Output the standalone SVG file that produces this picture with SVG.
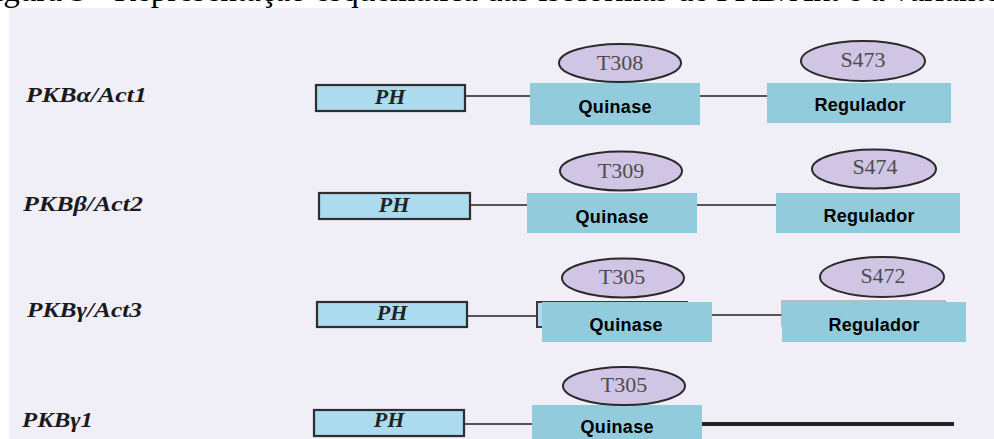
<svg xmlns="http://www.w3.org/2000/svg" width="994" height="439" viewBox="0 0 994 439">
  <style>
    .caption { font-family: "Liberation Serif", "Times New Roman", serif; font-size: 33px; fill: #000; }
    .label { font-family: "Liberation Serif", "Times New Roman", serif; font-size: 22px; font-weight: bold; font-style: italic; fill: #1a1a1a; }
    .ph { fill: #acdaee; stroke: #2e2e2e; stroke-width: 2.2; }
    .ph-text { font-family: "Liberation Serif", "Times New Roman", serif; font-size: 22px; font-weight: bold; font-style: italic; fill: #222; text-anchor: middle; }
    .domain { fill: #92cbdb; }
    .domain-text { font-family: "Liberation Sans", Arial, sans-serif; font-size: 18px; font-weight: bold; fill: #000; text-anchor: middle; }
    .site { fill: #d1c5e5; stroke: #2a2a2a; stroke-width: 2; }
    .site-text { font-family: "Liberation Serif", "Times New Roman", serif; font-size: 22px; fill: #4d4d4d; text-anchor: middle; }
    .link { stroke: #555; stroke-width: 2; fill: none; }
    .tail { stroke: #222; stroke-width: 4; fill: none; }
    .ghost { fill: #acdaee; stroke: #3a3a3a; stroke-width: 2; }
    .ghost-faint { fill: none; stroke: #a8a6b0; stroke-width: 1.5; }
  </style>

  <!-- page strip and panel -->
  <rect x="0" y="0" width="994" height="439" fill="#ffffff"/>
  <rect x="9" y="8" width="985" height="431" fill="#f0eff8"/>
  <text class="caption" x="-6" y="1">igura 3 - Representação esquemática das isoformas de PKB/Akt e a variante</text>

  <!-- connectors between domains -->
  <g id="connectors">
    <line class="link" x1="465" y1="96" x2="530" y2="96"/>
    <line class="link" x1="700" y1="96" x2="767" y2="96"/>
    <line class="link" x1="470" y1="205" x2="527" y2="205"/>
    <line class="link" x1="697" y1="205" x2="776" y2="205"/>
    <line class="link" x1="467" y1="316" x2="537" y2="316"/>
    <line class="link" x1="712" y1="315" x2="782" y2="315"/>
    <line class="link" x1="464" y1="424" x2="532" y2="424"/>
    <line class="tail" x1="702" y1="424" x2="954" y2="424"/>
  </g>

  <!-- PKB alpha / Act1 -->
  <g id="label-alpha"><text class="label" x="26" y="102" textLength="121" lengthAdjust="spacingAndGlyphs">PKBα/Act1</text></g>
  <g id="ph-alpha"><rect class="ph" x="316" y="85" width="149" height="26"/><text class="ph-text" x="390" y="104">PH</text></g>
  <g id="kinase-alpha"><rect class="domain" x="530" y="83" width="170" height="42"/><text class="domain-text" x="615" y="113" textLength="73">Quinase</text></g>
  <g id="site-t308"><ellipse class="site" cx="620" cy="63" rx="61" ry="19"/><text class="site-text" x="620" y="70">T308</text></g>
  <g id="reg-alpha"><rect class="domain" x="767" y="83" width="184" height="40"/><text class="domain-text" x="860" y="111" textLength="91">Regulador</text></g>
  <g id="site-s473"><ellipse class="site" cx="863" cy="61" rx="62" ry="20"/><text class="site-text" x="863" y="67">S473</text></g>

  <!-- PKB beta / Act2 -->
  <g id="label-beta"><text class="label" x="23" y="211" textLength="120" lengthAdjust="spacingAndGlyphs">PKBβ/Act2</text></g>
  <g id="ph-beta"><rect class="ph" x="319" y="193" width="151" height="26"/><text class="ph-text" x="394" y="212">PH</text></g>
  <g id="kinase-beta"><rect class="domain" x="527" y="193" width="170" height="40"/><text class="domain-text" x="612" y="223" textLength="73">Quinase</text></g>
  <g id="site-t309"><ellipse class="site" cx="621" cy="171" rx="61" ry="19.5"/><text class="site-text" x="621" y="178">T309</text></g>
  <g id="reg-beta"><rect class="domain" x="776" y="193" width="184" height="40"/><text class="domain-text" x="869" y="222" textLength="91">Regulador</text></g>
  <g id="site-s474"><ellipse class="site" cx="874" cy="169" rx="62" ry="19.5"/><text class="site-text" x="875" y="174">S474</text></g>

  <!-- PKB gamma / Act3 -->
  <g id="label-gamma"><text class="label" x="27" y="317" textLength="115" lengthAdjust="spacingAndGlyphs">PKBγ/Act3</text></g>
  <g id="ph-gamma"><rect class="ph" x="317" y="302" width="150" height="25"/><text class="ph-text" x="392" y="320">PH</text></g>
  <g id="kinase-gamma">
    <rect class="ghost" x="537" y="302" width="150" height="25"/>
    <rect class="domain" x="542" y="302" width="170" height="40"/>
    <text class="domain-text" x="626" y="331" textLength="73">Quinase</text>
  </g>
  <g id="site-t305"><ellipse class="site" cx="623" cy="278" rx="61" ry="19.5"/><text class="site-text" x="622" y="284">T305</text></g>
  <g id="reg-gamma">
    <rect class="ghost-faint" x="782" y="301" width="163" height="25"/>
    <rect class="domain" x="782" y="302" width="184" height="40"/>
    <text class="domain-text" x="874" y="331" textLength="91">Regulador</text>
  </g>
  <g id="site-s472"><ellipse class="site" cx="882" cy="277" rx="62" ry="20"/><text class="site-text" x="883" y="283">S472</text></g>

  <!-- PKB gamma1 variant -->
  <g id="label-gamma1"><text class="label" x="22" y="427" textLength="71" lengthAdjust="spacingAndGlyphs">PKBγ1</text></g>
  <g id="ph-gamma1"><rect class="ph" x="314" y="410" width="150" height="26"/><text class="ph-text" x="389" y="427">PH</text></g>
  <g id="kinase-gamma1"><rect class="domain" x="532" y="405" width="170" height="40"/><text class="domain-text" x="617" y="433" textLength="73">Quinase</text></g>
  <g id="site-t305-g1"><ellipse class="site" cx="624" cy="386" rx="61" ry="19"/><text class="site-text" x="624" y="392">T305</text></g>
</svg>
